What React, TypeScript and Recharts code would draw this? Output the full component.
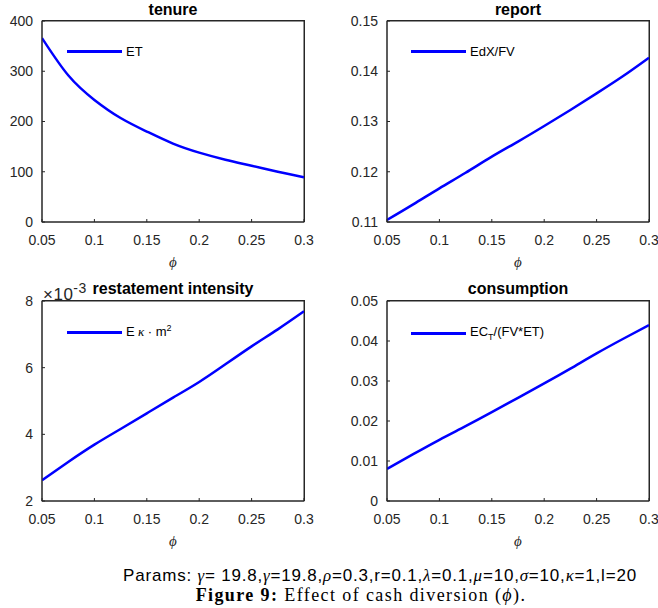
import React from 'react';
import * as RC from 'recharts';
import { LineChart, Line, XAxis, YAxis, Legend, Label } from 'recharts';

// phi grid and curves
const phi = [0.05, 0.075, 0.1, 0.125, 0.15, 0.175, 0.2, 0.225, 0.25, 0.275, 0.3];
const tenure = [366, 292, 243, 207, 180, 156, 138, 124, 112, 100, 89];
const report = [0.1104, 0.1135, 0.1167, 0.1198, 0.123, 0.126, 0.1291, 0.1323, 0.1356, 0.139, 0.1427];
const restatement = [0.00262, 0.00317, 0.00369, 0.00416, 0.00463, 0.0051, 0.00557, 0.0061, 0.00664, 0.00715, 0.00769];
const consumption = [0.008, 0.0117, 0.0153, 0.0187, 0.0222, 0.0258, 0.0294, 0.0331, 0.0369, 0.0405, 0.044];

const xTicks = [0.05, 0.1, 0.15, 0.2, 0.25, 0.3];
const tenureTicks = [0, 100, 200, 300, 400];
const reportTicks = [0.11, 0.12, 0.13, 0.14, 0.15];
const restatementTicks = [0.002, 0.004, 0.006, 0.008];
const consumptionTicks = [0, 0.01, 0.02, 0.03, 0.04, 0.05];

const AX = '#262626';
const SANS = '"Liberation Sans", Arial, sans-serif';
const SERIF = '"Liberation Serif", "Times New Roman", serif';
const tickStyle = { fontSize: 14, fill: AX, fontFamily: SANS };

const toRows = (vals: number[]) => phi.map((p, i) => ({ phi: p, v: vals[i] }));

// axes box drawn inside the chart svg from the plot area
const usePlotAreaSafe: () => any = (RC as any).usePlotArea || (() => null);
function AxesBox() {
  const area = usePlotAreaSafe();
  if (!area) return null;
  return <rect x={area.x} y={area.y} width={area.width} height={area.height} fill="none" stroke={AX} strokeWidth={1} />;
}

interface PanelProps {
  left: number;
  top: number;
  width: number;
  yWidth: number;
  right: number;
  plotH: number;
  values: number[];
  yDomain: [number, number];
  yTicks: number[];
  yFormat?: (v: number) => string;
  legend: React.ReactNode;
  legendLeft: number;
  legendTop: number;
}

function Panel(p: PanelProps) {
  const h = 280;
  const mTop = 21;
  const mBottom = h - mTop - p.plotH - 38;
  const plotW = p.width - p.yWidth - p.right;
  return (
    <div style={{ position: 'absolute', left: p.left, top: p.top, width: p.width, height: h }}>
      <LineChart
        width={p.width}
        height={h}
        data={toRows(p.values)}
        margin={{ top: mTop, right: p.right, bottom: mBottom, left: 0 }}
      >
        <XAxis
          xAxisId="x" dataKey="phi" type="number" domain={[0.05, 0.3]} ticks={xTicks} interval={0}
          height={38} tickSize={-3} tickMargin={16} tick={tickStyle}
          stroke={AX} tickLine={{ stroke: AX }} allowDataOverflow
        >
          <Label value="ϕ" position="bottom" offset={-4} fontFamily={SERIF} fontStyle="italic" fontSize={15} fill={AX} />
        </XAxis>
        <YAxis
          yAxisId="y" type="number" domain={p.yDomain} ticks={p.yTicks} interval={0}
          width={p.yWidth} tickSize={-3} tickMargin={12} tick={tickStyle}
          tickFormatter={p.yFormat} stroke={AX} allowDataOverflow
        />
        <AxesBox />
        <Legend
          layout="horizontal" verticalAlign="middle" align="center"
          wrapperStyle={{ left: p.legendLeft, top: p.legendTop, width: 'auto' }}
          content={() => (
            <div style={{ display: 'flex', alignItems: 'center', height: 16, fontFamily: SANS, fontSize: 13, color: '#000', whiteSpace: 'nowrap' }}>
              <div style={{ width: 55, height: 3, background: '#0000ff', marginRight: 4 }} />
              <span>{p.legend}</span>
            </div>
          )}
        />
        <Line
          xAxisId="x" yAxisId="y" dataKey="v" type="natural" stroke="#0000ff" strokeWidth={2.5}
          dot={false} isAnimationActive={false}
        />
      </LineChart>
      {/* top and right edges of the axes box (fallback) */}
      <div style={{
        position: 'absolute', zIndex: 5, left: p.yWidth, top: mTop - 1, width: plotW + 1, height: p.plotH + 1,
        borderTop: `1px solid ${AX}`, borderRight: `1px solid ${AX}`, boxSizing: 'border-box', pointerEvents: 'none',
      }} />
    </div>
  );
}

const titleStyle = (left: number, width: number, cy: number): React.CSSProperties => ({
  position: 'absolute', left, width, top: cy - 10, lineHeight: '20px', textAlign: 'center',
  fontFamily: SANS, fontWeight: 'bold', fontSize: 16, color: '#000',
});

const gi = { fontFamily: SERIF, fontStyle: 'italic' } as const;

export default function App() {
  return (
    <div style={{ position: 'absolute', left: 0, top: 0, width: 658, height: 608, background: '#fff', overflow: 'hidden' }}>
      <Panel left={0} top={0} width={330} yWidth={42} right={26} plotH={201}
        values={tenure} yDomain={[0, 400]} yTicks={tenureTicks}
        legend="ET" legendLeft={67} legendTop={43} />
      <Panel left={330} top={0} width={328} yWidth={57} right={9} plotH={201}
        values={report} yDomain={[0.11, 0.15]} yTicks={reportTicks}
        legend="EdX/FV" legendLeft={81} legendTop={43} />
      <Panel left={0} top={280} width={330} yWidth={42} right={26} plotH={200}
        values={restatement} yDomain={[0.002, 0.008]} yTicks={restatementTicks}
        yFormat={(v: number) => String(Math.round(v * 1000))}
        legend={<>E<i style={{ fontFamily: SERIF }}> κ</i> · m<sup style={{ fontSize: 9 }}>2</sup></>}
        legendLeft={67} legendTop={44} />
      <Panel left={330} top={280} width={328} yWidth={57} right={9} plotH={200}
        values={consumption} yDomain={[0, 0.05]} yTicks={consumptionTicks}
        legend={<>EC<sub style={{ fontSize: 9 }}>T</sub>/(FV*ET)</>}
        legendLeft={81} legendTop={45} />

      <div style={titleStyle(42, 262, 9.5)}>tenure</div>
      <div style={titleStyle(387, 262, 9.5)}>report</div>
      <div style={titleStyle(42, 262, 289)}>restatement intensity</div>
      <div style={titleStyle(387, 262, 289)}>consumption</div>

      <div style={{ position: 'absolute', left: 43, top: 279, fontFamily: SANS, fontSize: 17, color: AX, lineHeight: '18px', letterSpacing: 0.5 }}>
        ×10<sup style={{ fontSize: 14 }}>-3</sup>
      </div>

      <div style={{ position: 'absolute', left: 0, width: 760, top: 568, textAlign: 'center', fontFamily: SANS, fontSize: 17, letterSpacing: 0.8, color: '#000', lineHeight: '16px', whiteSpace: 'nowrap' }}>
        Params: <i style={gi}>γ</i>= 19.8,<i style={gi}>γ</i>=19.8,<i style={gi}>ρ</i>=0.3,r=0.1,<i style={gi}>λ</i>=0.1,<i style={gi}>μ</i>=10,<i style={gi}>σ</i>=10,<i style={gi}>κ</i>=1,l=20
      </div>
      <div style={{ position: 'absolute', left: 0, width: 722, top: 587, textAlign: 'center', fontFamily: SERIF, fontSize: 18, letterSpacing: 1.4, color: '#000', lineHeight: '16px', whiteSpace: 'nowrap' }}>
        <b>Figure 9:</b> Effect of cash diversion (<i>ϕ</i>).
      </div>
    </div>
  );
}
